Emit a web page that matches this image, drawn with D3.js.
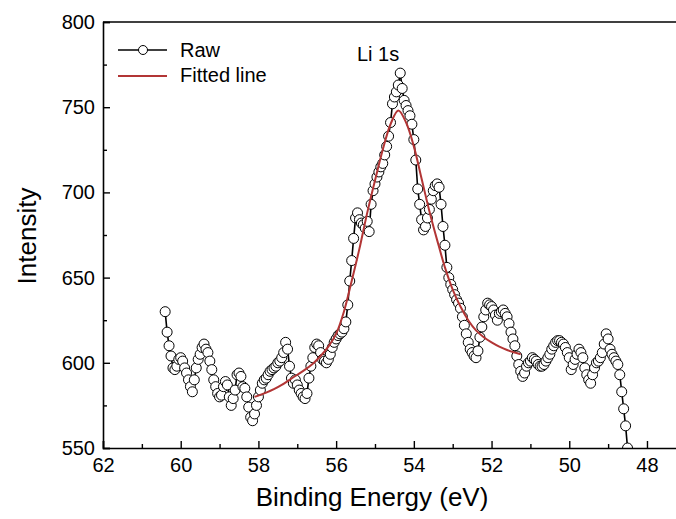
<!DOCTYPE html>
<html>
<head>
<meta charset="utf-8">
<script src="https://cdn.jsdelivr.net/npm/d3@7/dist/d3.min.js"></script>
<style>
  html, body { margin: 0; padding: 0; background: #fff; }
  svg { display: block; font-family: "Liberation Sans", Arial, sans-serif; }
</style>
</head>
<body>
<svg id="chart" width="676" height="519"></svg>
<script>
// ---- Data ----
const energyStart = 60.40;   // eV, first raw sample
const energyStep = 0.05;     // eV, sampling step
const rawIntensity = [
  630,618,610,604,597,596,598,602,603,601,
  597,594,590,586,583,590,597,602,605,609,
  611,608,606,601,596,590,586,582,580,581,
  586,589,587,580,575,579,584,593,594,592,
  586,585,580,574,568,566,570,
  575,580,584,588,590,591,593,595,596,597,
  598,600,601,603,606,612,608,598,591,588,
  590,587,584,582,580,579,582,591,598,603,
  609,611,610,606,602,601,600,602,605,609,
  612,614,616,617,618,620,624,
  634,648,660,673,685,688,684,682,681,679,
  683,677,693,701,705,709,712,715,717,722,
  727,733,741,752,756,759,763,770,761,754,
  751,748,745,740,731,719,702,693,684,678,
  680,685,690,696,701,704,705,
  703,693,680,669,656,650,646,643,640,637,
  635,632,627,622,617,612,608,606,604,603,
  607,615,621,627,631,635,634,633,631,628,
  625,629,630,631,629,627,623,618,614,610,
  604,599,595,592,594,598,600,
  601,603,602,601,599,598,598,599,601,603,
  605,608,610,612,613,613,612,611,609,606,
  603,596,599,602,605,608,606,603,597,593,
  590,588,593,597,600,601,603,606,611,617,
  614,608,605,603,601,599,593,583,573,563,
  550
];
const fitEnergy = [58.1,57.8,57.6,57.4,57.2,57.0,56.8,56.6,56.4,56.2,56.0,55.8,55.6,55.4,55.2,55.0,54.8,54.6,54.4,54.2,54.0,53.8,53.6,53.4,53.2,53.0,52.8,52.6,52.4,52.2,52.0,51.8,51.6,51.4,51.25];
const fitIntensity = [580,582.5,584.5,587,590,593,596,599.5,604,609.5,617,630,648,667,688,707,725,740,748,741,727,708,689,672,656,643,633,625,619,615,612,609.5,607.5,606,605];
const xMajorTicks = [62,60,58,56,54,52,50,48];
const xMinorTicks = [61,59,57,55,53,51,49];
const yMajorTicks = [550,600,650,700,750,800];
const yMinorTicks = [575,625,675,725,775];
const legendLabels = ["Raw", "Fitted line"];
const peakLabel = "Li 1s";
const xTitle = "Binding Energy (eV)";
const yTitle = "Intensity";

const raw = rawIntensity.map((v, i) => ({ e: +(energyStart - i * energyStep).toFixed(2), v }));
const fit = fitEnergy.map((e, i) => ({ e, v: fitIntensity[i] }));

// ---- Layout ----
const mLeft = 103, mRight = 680, mTop = 22, mBottom = 448;
const svg = d3.select("#chart");
const x = d3.scaleLinear().domain([62, 47.15]).range([mLeft, mRight]);
const y = d3.scaleLinear().domain([550, 800]).range([mBottom, mTop]);

const red = "#b23535";

svg.append("defs").append("clipPath").attr("id", "clip")
  .append("rect").attr("x", mLeft).attr("y", mTop).attr("width", mRight - mLeft).attr("height", mBottom - mTop);

const plot = svg.append("g").attr("clip-path", "url(#clip)");

plot.append("path").datum(raw)
  .attr("fill", "none").attr("stroke", "#000").attr("stroke-width", 1.6)
  .attr("d", d3.line().x(d => x(d.e)).y(d => y(d.v)));

plot.selectAll("circle.raw").data(raw).enter().append("circle")
  .attr("class", "raw")
  .attr("cx", d => x(d.e)).attr("cy", d => y(d.v)).attr("r", 5)
  .attr("fill", "#fff").attr("stroke", "#000").attr("stroke-width", 1);

plot.append("path").datum(fit)
  .attr("fill", "none").attr("stroke", red).attr("stroke-width", 2)
  .attr("d", d3.line().curve(d3.curveCatmullRom).x(d => x(d.e)).y(d => y(d.v)));

// ---- Axes ----
const fontTick = 20;
const xAxis = svg.append("g").attr("transform", `translate(0,${mBottom})`)
  .call(d3.axisBottom(x).tickValues(xMajorTicks).tickSize(-7).tickPadding(10).tickFormat(d3.format("d")));
const xMinor = svg.append("g").attr("transform", `translate(0,${mBottom})`)
  .call(d3.axisBottom(x).tickValues(xMinorTicks).tickSize(-4).tickFormat(""));
const yAxis = svg.append("g").attr("transform", `translate(${mLeft},0)`)
  .call(d3.axisLeft(y).tickValues(yMajorTicks).tickSize(-7).tickPadding(8).tickFormat(d3.format("d")));
const yMinor = svg.append("g").attr("transform", `translate(${mLeft},0)`)
  .call(d3.axisLeft(y).tickValues(yMinorTicks).tickSize(-4).tickFormat(""));

[xAxis, xMinor, yAxis, yMinor].forEach(g => {
  g.select(".domain").attr("stroke", "#000").attr("stroke-width", 1.6);
  g.selectAll(".tick line").attr("stroke", "#000").attr("stroke-width", 1.4);
  g.selectAll("text").attr("font-size", fontTick).attr("fill", "#000")
    .attr("font-family", '"Liberation Sans", Arial, sans-serif');
});
xMinor.select(".domain").remove();
yMinor.select(".domain").remove();

// top border
svg.append("line").attr("x1", mLeft).attr("x2", mRight).attr("y1", mTop).attr("y2", mTop)
  .attr("stroke", "#000").attr("stroke-width", 1.6);

// ---- Titles ----
svg.append("text").attr("x", 372).attr("y", 506).attr("text-anchor", "middle")
  .attr("font-size", 26).attr("fill", "#000").text(xTitle);
svg.append("text").attr("transform", "translate(36,236) rotate(-90)").attr("text-anchor", "middle")
  .attr("font-size", 26).attr("fill", "#000").text(yTitle);

svg.append("text").attr("x", 357).attr("y", 61).attr("font-size", 20).attr("fill", "#000").text(peakLabel);

// ---- Legend ----
const lg = svg.append("g");
lg.append("line").attr("x1", 118).attr("x2", 167).attr("y1", 50).attr("y2", 50)
  .attr("stroke", "#000").attr("stroke-width", 1.6);
lg.append("circle").attr("cx", 143).attr("cy", 50).attr("r", 4.5)
  .attr("fill", "#fff").attr("stroke", "#000").attr("stroke-width", 1);
lg.append("text").attr("x", 180).attr("y", 57).attr("font-size", 20).attr("fill", "#000").text(legendLabels[0]);
lg.append("line").attr("x1", 118).attr("x2", 167).attr("y1", 76).attr("y2", 76)
  .attr("stroke", red).attr("stroke-width", 2);
lg.append("text").attr("x", 180).attr("y", 82).attr("font-size", 20).attr("fill", "#000").text(legendLabels[1]);
</script>
</body>
</html>
